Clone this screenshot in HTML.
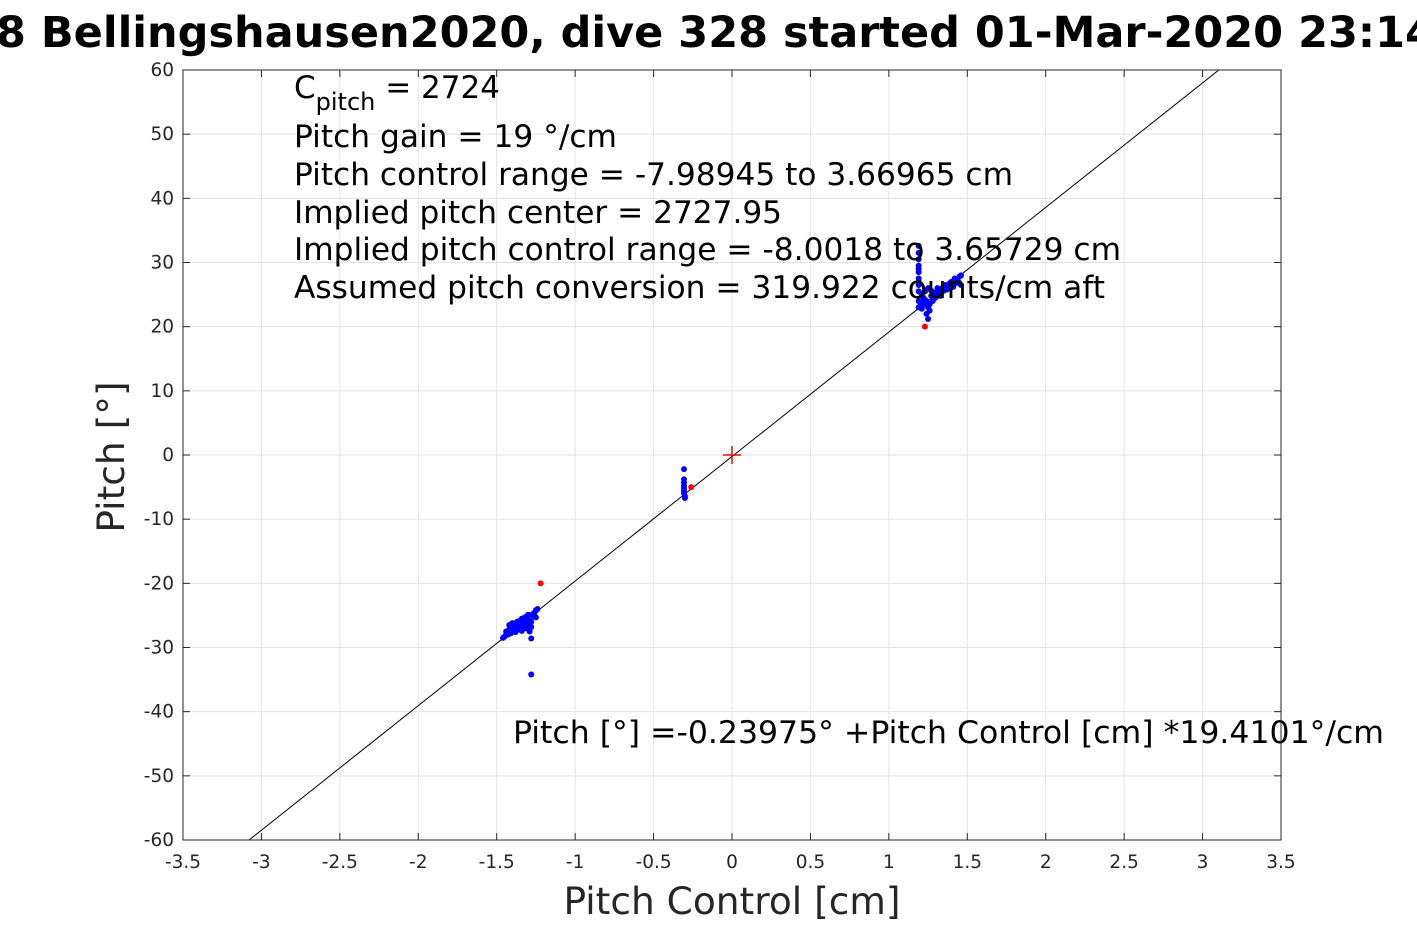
<!DOCTYPE html>
<html><head><meta charset="utf-8"><style>
body{margin:0;background:#fff;}
svg{display:block;font-family:"DejaVu Sans","Liberation Sans",sans-serif;}
</style></head><body>
<svg id="chart" width="1417" height="945" viewBox="0 0 1417 945" xmlns="http://www.w3.org/2000/svg">
<rect width="1417" height="945" fill="#fff"/>
<text x="-4" y="47" font-size="43" font-weight="bold" fill="#000">8 Bellingshausen2020, dive 328 started 01-Mar-2020 23:14</text>
<g id="grid"></g>
<g id="marks"></g>
<g id="axes"></g>
<g font-size="31" fill="#000">
<text x="294" y="98">C<tspan font-size="24" dy="12">pitch</tspan><tspan dy="-12"> = 2724</tspan></text>
<text x="294" y="147" textLength="323" lengthAdjust="spacingAndGlyphs">Pitch gain = 19 °/cm</text>
<text x="294" y="185" textLength="719" lengthAdjust="spacingAndGlyphs">Pitch control range = -7.98945 to 3.66965 cm</text>
<text x="294" y="223" textLength="488" lengthAdjust="spacingAndGlyphs">Implied pitch center = 2727.95</text>
<text x="294" y="260" textLength="827" lengthAdjust="spacingAndGlyphs">Implied pitch control range = -8.0018 to 3.65729 cm</text>
<text x="294" y="298" textLength="811" lengthAdjust="spacingAndGlyphs">Assumed pitch conversion = 319.922 counts/cm aft</text>
<text x="513" y="743" textLength="871" lengthAdjust="spacingAndGlyphs">Pitch [°] =-0.23975° +Pitch Control [cm] *19.4101°/cm</text>
</g>
<text x="732" y="914" font-size="37.5" text-anchor="middle" fill="#262626">Pitch Control [cm]</text>
<text transform="translate(124,457) rotate(-90)" font-size="37.5" text-anchor="middle" fill="#262626">Pitch [°]</text>
</svg>
<script>
const xTicks=[-3.5,-3,-2.5,-2,-1.5,-1,-0.5,0,0.5,1,1.5,2,2.5,3,3.5];
const yTicks=[-60,-50,-40,-30,-20,-10,0,10,20,30,40,50,60];
const fitIntercept=-0.23975;
const fitSlope=19.4101;
const blueX=[-1.46,-1.45,-1.44,-1.43,-1.42,-1.42,-1.41,-1.40,-1.40,-1.39,-1.38,-1.38,-1.37,-1.36,-1.36,-1.35,-1.34,-1.34,-1.33,-1.32,-1.32,-1.31,-1.30,-1.30,-1.29,-1.29,-1.28,-1.28,-1.27,-1.26,-1.25,-1.25,-1.24,-1.28,-1.29,-1.44,-1.41,-1.39,-1.37,-1.35,-1.33,-1.31,-1.30,-1.28,-1.27,-1.26,
 -0.306,-0.306,-0.306,-0.306,-0.306,-0.306,-0.306,-0.30,-0.30,
 1.19,1.19,1.19,1.19,1.19,1.19,1.19,1.19,1.19,1.20,1.21,1.22,1.23,1.23,1.24,1.24,1.25,1.25,1.26,1.27,1.28,1.29,1.30,1.31,1.32,1.33,1.34,1.35,1.36,1.37,1.38,1.39,1.40,1.41,1.42,1.43,1.44,1.45,1.46,1.46,1.25,1.24,1.19,1.19,1.19,1.21,1.22,1.23,1.26,1.27,1.29,1.31,1.33,1.36,1.39,1.42,1.45];
const blueY=[-28.5,-28.3,-27.5,-28.0,-27.2,-26.5,-27.8,-27.0,-26.2,-27.5,-26.8,-27.6,-26.0,-27.2,-25.9,-26.5,-27.4,-25.5,-26.0,-25.3,-27.0,-25.2,-26.5,-24.9,-27.5,-25.8,-26.0,-28.6,-25.0,-24.6,-24.2,-25.3,-24.0,-34.2,-27.0,-28.0,-27.0,-26.5,-27.0,-26.8,-26.4,-27.0,-26.0,-26.8,-24.8,-25.2,
 -2.2,-3.8,-4.3,-4.8,-5.2,-5.6,-6.0,-6.4,-6.7,
 23.0,24.0,25.5,26.5,27.5,28.5,29.5,30.5,32.6,23.2,22.8,24.5,23.5,25.5,22.0,24.0,21.2,26.0,23.5,24.8,24.0,25.3,24.6,25.0,25.5,24.8,26.0,25.6,26.2,25.8,26.5,26.0,27.0,26.2,27.5,26.8,27.0,27.8,26.5,28.0,23.0,23.8,31.5,29.0,27.0,25.0,23.8,24.2,22.5,25.6,24.4,26.0,25.2,26.5,26.8,27.2,26.8];
const redX=[-1.22,-0.26,1.23];
const redY=[-20,-5.0,20];
const X=v=>732+v*(1098/7), Y=v=>455-v*(770/120);
const NS='http://www.w3.org/2000/svg';
function mk(p,t,a){const e=document.createElementNS(NS,t);for(const k in a)e.setAttribute(k,a[k]);p.appendChild(e);return e;}
const grid=document.getElementById('grid'),marks=document.getElementById('marks'),axes=document.getElementById('axes');
xTicks.forEach(t=>{const l=mk(grid,'line',{x1:X(t),x2:X(t),y1:70,y2:840,stroke:'#e3e3e3'});

mk(axes,'line',{x1:X(t),x2:X(t),y1:840,y2:833,stroke:'#262626'});mk(axes,'line',{x1:X(t),x2:X(t),y1:70,y2:77,stroke:'#262626'});
const tx=mk(axes,'text',{x:X(t),y:868,'font-size':18.5,'text-anchor':'middle',fill:'#262626'});tx.textContent=t;
});
yTicks.forEach(t=>{const l=mk(grid,'line',{x1:183,x2:1281,y1:Y(t),y2:Y(t),stroke:'#e3e3e3'});

mk(axes,'line',{x1:183,x2:190,y1:Y(t),y2:Y(t),stroke:'#262626'});mk(axes,'line',{x1:1281,x2:1274,y1:Y(t),y2:Y(t),stroke:'#262626'});
const tx=mk(axes,'text',{x:174,y:Y(t)+6,'font-size':18.5,'text-anchor':'end',fill:'#262626'});tx.textContent=t;
});
const fr=mk(axes,'rect',{x:183,y:70,width:1098,height:770,fill:'none',stroke:'#262626'});

const x0=(-60-fitIntercept)/fitSlope,x1=(60-fitIntercept)/fitSlope;
const fl=mk(marks,'line',{x1:X(x0),y1:Y(-60),x2:X(x1),y2:Y(60),stroke:'#000','stroke-width':1});

blueX.forEach((v,i)=>{const c=mk(marks,'circle',{cx:X(v),cy:Y(blueY[i]),r:3,fill:'#0000ff'});
});
redX.forEach((v,i)=>{const c=mk(marks,'circle',{cx:X(v),cy:Y(redY[i]),r:3,fill:'#ff0000'});
});
const pg=mk(marks,'g',{stroke:'#ff0000','stroke-width':1.5});

mk(pg,'line',{x1:X(0)-9,x2:X(0)+9,y1:Y(0),y2:Y(0)});mk(pg,'line',{x1:X(0),x2:X(0),y1:Y(0)-9,y2:Y(0)+9});
</script>
</body></html>
